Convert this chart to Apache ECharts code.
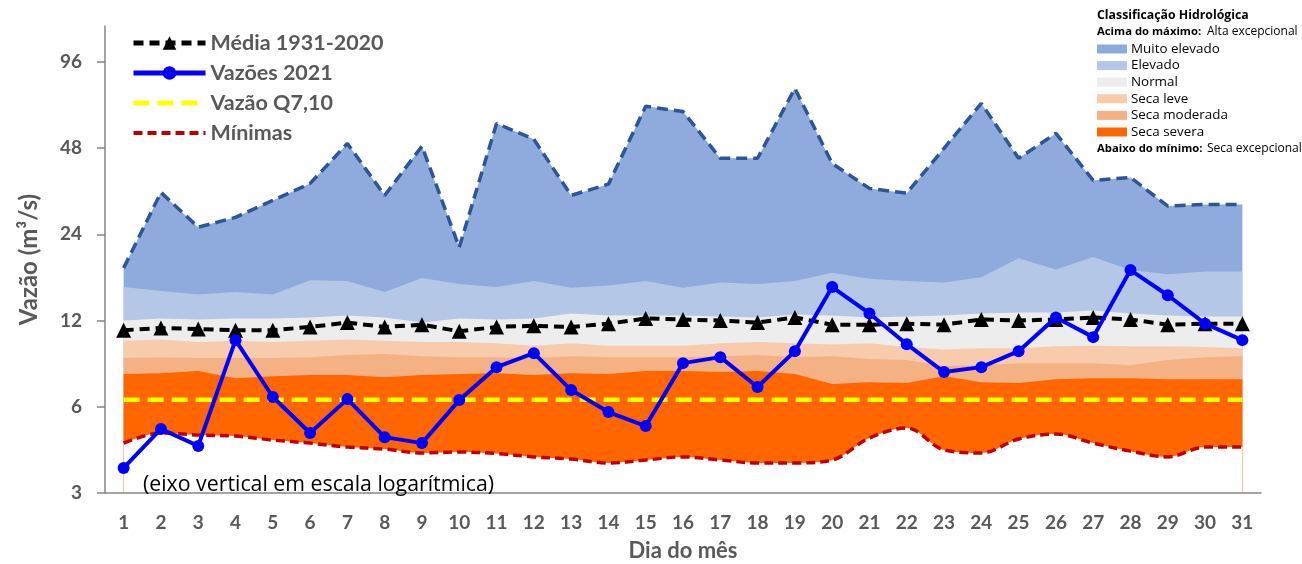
<!DOCTYPE html>
<html><head><meta charset="utf-8">
<script src="https://cdn.jsdelivr.net/npm/echarts@6/dist/echarts.min.js"></script>
<style>html,body{margin:0;padding:0;background:#fff}#c{width:1302px;height:564px}</style>
</head><body><div id="c"></div>
<script>
// ---- data ----
const days = ['1','2','3','4','5','6','7','8','9','10','11','12','13','14','15','16','17','18','19','20','21','22','23','24','25','26','27','28','29','30','31'];
const maximas = [18.3,33.6,25.4,27.5,31.5,36.1,49.8,32.8,48.7,21.6,58.5,51.5,32.8,35.9,67.1,64.4,44.2,44.2,77.5,42.4,34.7,33.4,47.9,68.7,44.2,54.0,37.0,37.9,30.1,30.5,30.5];
const elevadoTop = [15.7,15.2,14.8,15.1,14.8,16.6,16.5,15.1,16.9,16.1,15.7,16.5,15.6,15.9,16.5,15.6,16.3,16.1,16.5,17.6,16.8,16.5,16.3,17.0,19.8,18.1,20.0,18.0,17.4,17.8,17.8];
const normalTop = [12.0,12.2,12.1,12.2,12.2,12.3,12.5,12.3,11.8,12.2,12.1,12.2,12.7,12.5,12.5,12.5,12.4,12.3,12.6,12.5,12.3,12.4,12.5,12.7,12.8,12.8,13.0,12.7,12.5,12.4,12.4];
const secaLeveTop = [10.2,10.3,10.1,10.2,10.1,10.2,10.3,10.2,10.1,10.1,10.0,9.8,10.0,9.8,9.8,9.8,10.0,10.1,10.0,9.9,10.0,9.7,9.5,9.6,9.6,9.75,9.8,9.75,9.75,9.7,9.6];
const secaModeradaTop = [8.87,8.94,8.87,8.87,8.87,8.94,9.09,9.16,9.0,8.94,8.94,8.87,9.0,8.94,8.94,8.94,9.0,9.09,8.94,9.0,8.8,8.73,8.32,8.38,8.52,8.52,8.52,8.38,8.73,8.94,9.0];
const secaSeveraTop = [7.80,7.86,7.99,7.55,7.67,7.74,7.74,7.61,7.74,7.80,7.86,7.74,7.86,7.80,7.99,7.99,7.93,7.99,7.80,7.20,7.31,7.26,7.67,7.31,7.26,7.49,7.55,7.55,7.49,7.49,7.49];
const minimas = [4.48,4.86,4.78,4.74,4.59,4.48,4.34,4.27,4.14,4.17,4.12,4.01,3.94,3.82,3.91,4.01,3.91,3.82,3.82,3.91,4.67,5.06,4.24,4.14,4.63,4.82,4.48,4.20,4.01,4.34,4.34];
const media = [11.1,11.3,11.2,11.1,11.1,11.4,11.8,11.4,11.6,11.0,11.4,11.5,11.4,11.7,12.2,12.1,12.0,11.8,12.3,11.6,11.6,11.7,11.6,12.1,12.0,12.1,12.3,12.1,11.6,11.7,11.7];
const vazoes2021 = [3.67,5.02,4.38,10.25,6.49,4.86,6.38,4.70,4.48,6.33,8.25,9.23,6.86,5.75,5.14,8.52,8.94,7.03,9.38,15.7,12.7,9.92,7.93,8.25,9.38,12.3,10.5,18.0,14.7,11.7,10.25];
const q710 = 6.35;
const yTicks = [3,6,12,24,48,96];
const classNames = ['Muito elevado','Elevado','Normal','Seca leve','Seca moderada','Seca severa'];
const classColors = ['#8FAADC','#B4C7E7','#EDEDED','#F8CBAD','#F4B183','#FF6600'];

// ---- chart ----
const FONT = 'Lato, "Open Sans", sans-serif';
const FONT2 = '"Open Sans", sans-serif';
const GREY = '#595959';
const AX = '#868686';
const bandData = [maximas, elevadoTop, normalTop, secaLeveTop, secaModeradaTop, secaSeveraTop];

const series = [];
bandData.forEach((d, i) => {
  series.push({
    name: classNames[i], type: 'line', data: d, symbol: 'none', silent: true,
    lineStyle: i === 0 ? {color: '#2F5597', width: 3.5, type: [11, 6]} : {width: 0},
    areaStyle: {color: classColors[i], opacity: 1, origin: 'start'},
    z: 2
  });
});
series.push({
  name: 'Mínimas', type: 'line', data: minimas, symbol: 'none', smooth: 0.35,
  itemStyle: {color: '#C00000'},
  lineStyle: {color: '#C00000', width: 3.5, type: [9, 5]},
  areaStyle: {color: '#ffffff', opacity: 1, origin: 'start'},
  z: 3
});
series.push({
  name: 'Vazão Q7,10', type: 'line', data: [[days[0], q710], [days[days.length - 1], q710]],
  symbol: 'none', itemStyle: {color: '#FFFF00'},
  lineStyle: {color: '#FFFF00', width: 4.5, type: [16, 8]}, z: 4
});
series.push({
  name: 'Média 1931-2020', type: 'line', data: media, symbol: 'triangle', symbolSize: 15,
  itemStyle: {color: '#000'}, lineStyle: {color: '#000', width: 4, type: [10, 6]}, z: 5
});
series.push({
  name: 'Vazões 2021', type: 'line', data: vazoes2021, symbol: 'circle', symbolSize: 12,
  itemStyle: {color: '#0000FF'}, lineStyle: {color: '#0000FF', width: 4}, z: 6
});

function txt(x, y, text, font) {
  return {type: 'text', x: x, y: y, style: {text: text, font: font, fill: '#000', textVerticalAlign: 'middle'}};
}
const graphics = [];
graphics.push(txt(1097, 15, 'Classificação Hidrológica', 'bold 12.3px ' + FONT2));
graphics.push(txt(1097, 32, 'Acima do máximo:', 'bold 11.3px ' + FONT2));
graphics.push(txt(1207, 32, 'Alta excepcional', '12px ' + FONT2));
classNames.forEach((n, i) => {
  const cy = 49 + i * 16.6;
  graphics.push({type: 'rect', shape: {x: 1097, y: cy - 4.5, width: 30, height: 9}, style: {fill: classColors[i]}});
  graphics.push(txt(1131, cy, n, '13.4px ' + FONT2));
});
graphics.push(txt(1097, 149, 'Abaixo do mínimo:', 'bold 11.3px ' + FONT2));
graphics.push(txt(1207, 149, 'Seca excepcional', '12px ' + FONT2));
const note = txt(143, 485, '(eixo vertical em escala logarítmica)', '21.3px ' + FONT2);
note.z = 20;
graphics.push(note);

const legendLine = {width: 5};
const option = {
  animation: false,
  textStyle: {fontFamily: FONT},
  grid: {left: 105, right: 41, top: 26, bottom: 71, outerBoundsMode: 'none', containLabel: false},
  legend: {
    data: [
      {name: 'Média 1931-2020', lineStyle: legendLine},
      {name: 'Vazões 2021', lineStyle: legendLine},
      {name: 'Vazão Q7,10', lineStyle: legendLine, itemStyle: {opacity: 0}},
      {name: 'Mínimas', lineStyle: {width: 4}, itemStyle: {opacity: 0}}
    ],
    orient: 'vertical', left: 126, top: 27, itemWidth: 72, itemHeight: 17, itemGap: 8,
    textStyle: {fontSize: 21.5, fontWeight: 'bold', color: GREY, lineHeight: 22, fontFamily: FONT}
  },
  xAxis: {
    type: 'category', data: days, boundaryGap: true, z: 10,
    name: 'Dia do mês', nameLocation: 'middle', nameGap: 47,
    nameTextStyle: {fontSize: 22, fontWeight: 'bold', color: GREY, fontFamily: FONT},
    axisLine: {lineStyle: {color: AX, width: 1.5}},
    axisTick: {length: 7, lineStyle: {color: AX, width: 1.5}},
    axisLabel: {interval: 0, fontSize: 19, fontWeight: 'bold', color: GREY, margin: 20, fontFamily: FONT}
  },
  yAxis: {
    type: 'log', logBase: 2, min: 3, max: 128, z: 10,
    name: 'Vazão (m³/s)', nameLocation: 'middle', nameGap: 64,
    nameTextStyle: {fontSize: 24, fontWeight: 'bold', color: GREY, fontFamily: FONT},
    axisLine: {show: true, lineStyle: {color: AX, width: 1.5}},
    axisTick: {show: true, length: 8, customValues: yTicks, lineStyle: {color: AX, width: 1.5}},
    axisLabel: {customValues: yTicks, fontSize: 19, fontWeight: 'bold', color: GREY, margin: 23, fontFamily: FONT, formatter: v => String(v)},
    splitLine: {show: false}, minorTick: {show: false}
  },
  graphic: graphics,
  series: series
};
const chart = echarts.init(document.getElementById('c'), null, {renderer: 'canvas'});
chart.setOption(option);
</script></body></html>
